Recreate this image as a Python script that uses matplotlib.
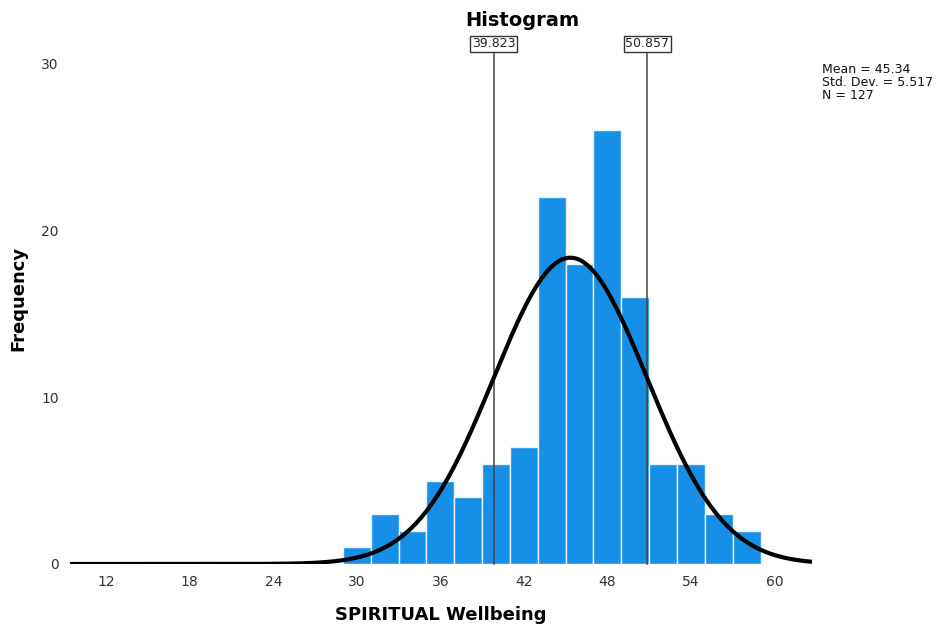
import numpy as np
import matplotlib
matplotlib.use("Agg")
import matplotlib.pyplot as plt

# frequency table, bin width 2
bin_edges = [29, 31, 33, 35, 37, 39, 41, 43, 45, 47, 49, 51, 53, 55, 57, 59]
counts = [1, 3, 2, 5, 4, 6, 7, 22, 18, 26, 16, 6, 6, 3, 2]
mean = 45.34
sd = 5.517
n = 127
ref_lines = [39.823, 50.857]
x_ticks = [12, 18, 24, 30, 36, 42, 48, 54, 60]
y_ticks = [0, 10, 20, 30]

plt.rcParams['font.family'] = ['DejaVu Sans']

fig = plt.figure(figsize=(9.44, 6.27), dpi=100)
ax = fig.add_axes([0.0742, 0.1005, 0.786, 0.8165])

lefts = np.array(bin_edges[:-1])
widths = np.diff(bin_edges)
ax.bar(lefts, counts, width=widths, align='edge', color='#1590e6',
       edgecolor='#e8f3fc', linewidth=1.0, zorder=2)

# normal curve scaled to counts
xmin, xmax = 9.4, 62.7
xs = np.linspace(xmin, xmax, 600)
bw = 2
ys = n * bw / (sd * np.sqrt(2 * np.pi)) * np.exp(-0.5 * ((xs - mean) / sd) ** 2)
ax.plot(xs, ys, color='black', linewidth=3, zorder=4, solid_capstyle='butt')

ymax = 30.7
for v in ref_lines:
    ax.plot([v, v], [0, ymax], color='#444444', linewidth=1.1, zorder=3, clip_on=False)
    ax.text(v, ymax + 0.1, f"{v:.3f}", ha='center', va='bottom', fontsize=9,
            color='#222222', zorder=5,
            bbox=dict(boxstyle='square,pad=0.12', facecolor='white',
                      edgecolor='#333333', linewidth=1.0))

ax.set_xlim(xmin, xmax)
ax.set_ylim(0, ymax)
ax.set_xticks(x_ticks)
ax.set_yticks(y_ticks)
ax.tick_params(length=0, labelsize=10, labelcolor='#333333', pad=8)
for s in ax.spines.values():
    s.set_visible(False)

ax.set_xlabel('SPIRITUAL Wellbeing', fontsize=13, fontweight='bold')
ax.set_ylabel('Frequency', fontsize=13, fontweight='bold')
# place axis titles in figure pixels
ax.xaxis.set_label_coords(441 / 944, 615 / 627 * -1 + 1, transform=fig.transFigure)
ax.yaxis.set_label_coords(18 / 944, 1 - 298 / 627, transform=fig.transFigure)
ax.xaxis.label.set_va('center')
ax.yaxis.label.set_va('center')
fig.text(0.553, 0.968, 'Histogram', ha='center', va='center',
         fontsize=14, fontweight='bold')

fig.text(0.871, 0.9, f"Mean = {mean}\nStd. Dev. = {sd}\nN = {n}",
         ha='left', va='top', fontsize=9, linespacing=1.0, color='#111111')

fig.savefig('out.png', dpi=100)
